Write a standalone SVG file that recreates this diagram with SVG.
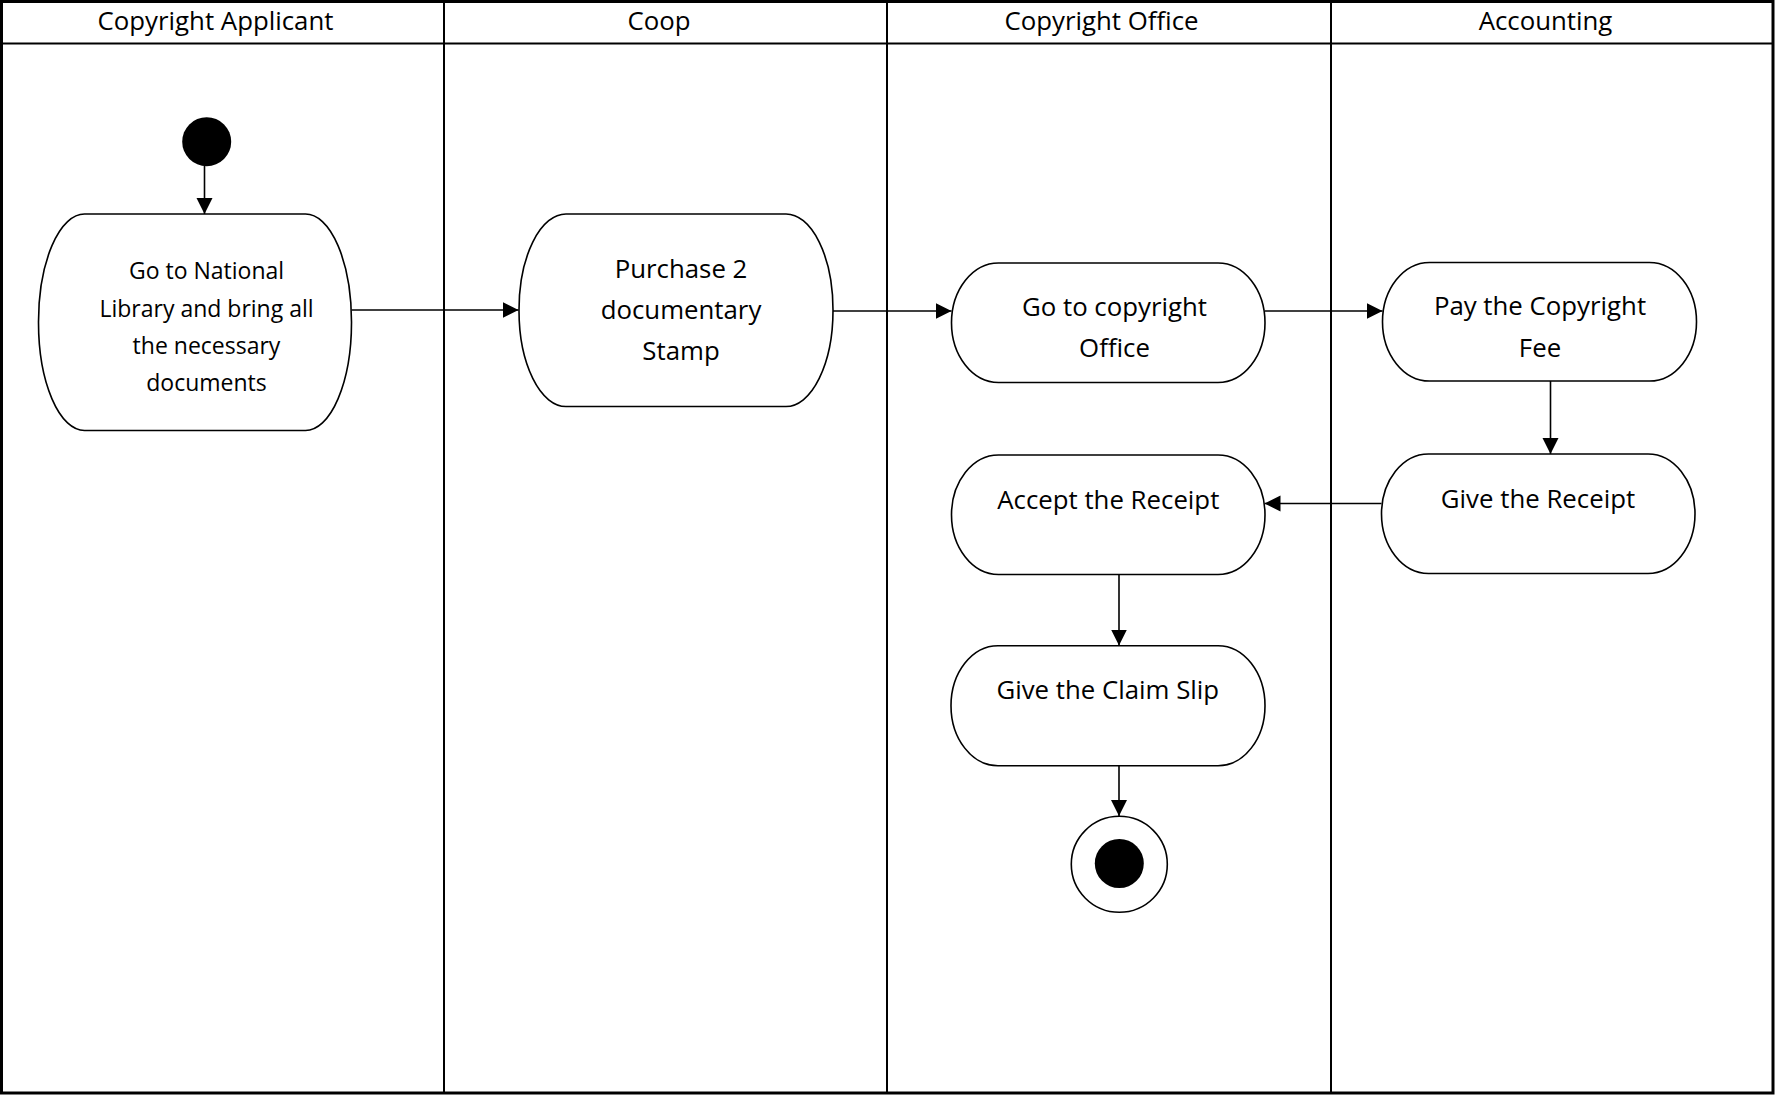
<svg xmlns="http://www.w3.org/2000/svg" width="1775" height="1095" viewBox="0 0 1775 1095">
  <style>
    .lane { fill: none; stroke: #000; stroke-width: 2; }
    .frame { fill: #fff; stroke: #000; stroke-width: 3; }
    .node { fill: #fff; stroke: #000; stroke-width: 1.6; }
    .hdr { font-family: "Open Sans", "Liberation Sans", sans-serif; font-size: 25.8px; fill: #000; text-anchor: middle; }
    .lbl { font-family: "Open Sans", "Liberation Sans", sans-serif; font-size: 25.8px; fill: #000; text-anchor: middle; }
    .lbl-s { font-family: "Open Sans", "Liberation Sans", sans-serif; font-size: 23px; fill: #000; text-anchor: middle; }
    .conn { fill: none; stroke: #000; stroke-width: 1.6; }
  </style>
  <defs>
    <marker id="arrow" markerUnits="userSpaceOnUse" markerWidth="17" markerHeight="17" viewBox="0 0 17 17" refX="16" refY="8.5" orient="auto">
      <path d="M0,0.5 L16,8.5 L0,16.5 Z" fill="#000"/>
    </marker>
  </defs>

  <g id="swimlanes">
    <rect class="frame" x="1.5" y="1.5" width="1771.5" height="1091.5"/>
    <line class="lane" x1="1.5" y1="43.5" x2="1773" y2="43.5"/>
    <line class="lane" x1="444" y1="1.5" x2="444" y2="1093"/>
    <line class="lane" x1="887" y1="1.5" x2="887" y2="1093"/>
    <line class="lane" x1="1331" y1="1.5" x2="1331" y2="1093"/>
    <text class="hdr" x="215.5" y="30">Copyright Applicant</text>
    <text class="hdr" x="659" y="30">Coop</text>
    <text class="hdr" x="1101.5" y="30">Copyright Office</text>
    <text class="hdr" x="1545.5" y="30">Accounting</text>
  </g>

  <g id="connectors">
    <line class="conn" x1="204.5" y1="166" x2="204.5" y2="214" marker-end="url(#arrow)"/>
    <line class="conn" x1="351.5" y1="310" x2="518.5" y2="310" marker-end="url(#arrow)"/>
    <line class="conn" x1="833" y1="311" x2="951.5" y2="311" marker-end="url(#arrow)"/>
    <line class="conn" x1="1265" y1="311" x2="1382.5" y2="311" marker-end="url(#arrow)"/>
    <line class="conn" x1="1550.5" y1="381" x2="1550.5" y2="454" marker-end="url(#arrow)"/>
    <line class="conn" x1="1381.5" y1="503.5" x2="1264.5" y2="503.5" marker-end="url(#arrow)"/>
    <line class="conn" x1="1119" y1="574.5" x2="1119" y2="645.5" marker-end="url(#arrow)"/>
    <line class="conn" x1="1119" y1="765.5" x2="1119" y2="816" marker-end="url(#arrow)"/>
  </g>

  <g id="start">
    <circle cx="206.7" cy="141.7" r="24.5" fill="#000"/>
  </g>

  <g id="go-to-national-library">
    <rect class="node" x="38.5" y="214" width="313" height="216.5" rx="46" ry="108"/>
    <text class="lbl-s" x="206.5" y="279">Go to National</text>
    <text class="lbl-s" x="206.5" y="316.7">Library and bring all</text>
    <text class="lbl-s" x="206.5" y="354.3">the necessary</text>
    <text class="lbl-s" x="206.5" y="390.7">documents</text>
  </g>

  <g id="purchase-stamp">
    <rect class="node" x="519" y="214" width="314" height="192.5" rx="47" ry="96"/>
    <text class="lbl" x="681" y="277.7">Purchase 2</text>
    <text class="lbl" x="681" y="318.5">documentary</text>
    <text class="lbl" x="681" y="360">Stamp</text>
  </g>

  <g id="go-to-copyright-office">
    <rect class="node" x="951.5" y="263" width="313.5" height="119.5" rx="47" ry="59.75"/>
    <text class="lbl" x="1114.5" y="316">Go to copyright</text>
    <text class="lbl" x="1114.5" y="356.7">Office</text>
  </g>

  <g id="pay-copyright-fee">
    <rect class="node" x="1382.5" y="262.5" width="314" height="118.5" rx="47" ry="59.25"/>
    <text class="lbl" x="1540" y="315">Pay the Copyright</text>
    <text class="lbl" x="1540" y="356.7">Fee</text>
  </g>

  <g id="give-receipt">
    <rect class="node" x="1381.5" y="454" width="313.5" height="119.5" rx="47" ry="59.75"/>
    <text class="lbl" x="1538" y="507.7">Give the Receipt</text>
  </g>

  <g id="accept-receipt">
    <rect class="node" x="951.5" y="455" width="313.5" height="119.5" rx="47" ry="59.75"/>
    <text class="lbl" x="1108.3" y="509">Accept the Receipt</text>
  </g>

  <g id="give-claim-slip">
    <rect class="node" x="951" y="645.7" width="314" height="120" rx="47" ry="60"/>
    <text class="lbl" x="1107.8" y="699.3">Give the Claim Slip</text>
  </g>

  <g id="end">
    <circle cx="1119.3" cy="864.3" r="48" fill="#fff" stroke="#000" stroke-width="1.6"/>
    <circle cx="1119.3" cy="863.5" r="24.5" fill="#000"/>
  </g>
</svg>
